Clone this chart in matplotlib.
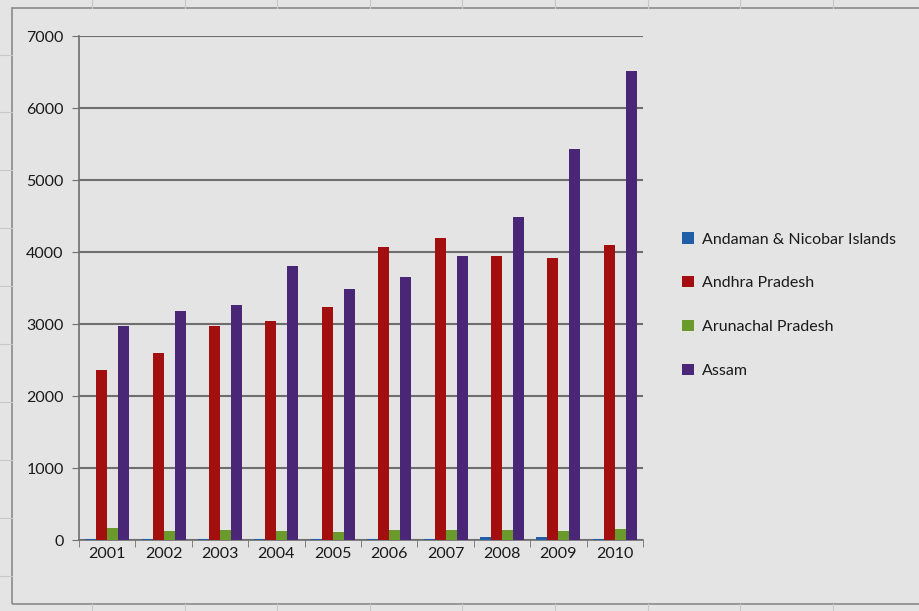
import matplotlib.pyplot as plt
import numpy as np

plt.rcParams['font.family'] = ['Lato', 'DejaVu Sans']

years = ['2001', '2002', '2003', '2004', '2005', '2006', '2007', '2008', '2009', '2010']
andaman = [10, 10, 10, 10, 10, 10, 10, 35, 35, 10]
andhra = [2360, 2600, 2970, 3040, 3230, 4070, 4200, 3940, 3910, 4100]
arunachal = [165, 120, 145, 120, 115, 145, 140, 145, 120, 150]
assam = [2970, 3180, 3260, 3810, 3490, 3650, 3940, 4480, 5430, 6510]

series = [
    ('Andaman & Nicobar Islands', andaman, '#1f5fa8'),
    ('Andhra Pradesh', andhra, '#a30f0f'),
    ('Arunachal Pradesh', arunachal, '#6b9a2c'),
    ('Assam', assam, '#4a2676'),
]

bg = '#e4e4e4'
fig = plt.figure(figsize=(9.19, 6.11), dpi=100, facecolor=bg)

# spreadsheet cell lines around the chart frame
for x in [92, 185, 277, 370, 462, 555, 648, 740, 833]:
    fig.add_artist(plt.Line2D([x / 919, x / 919], [1 - 8 / 611, 1], color='#c8c8c8', lw=0.8))
    fig.add_artist(plt.Line2D([x / 919, x / 919], [0, 1 - 604 / 611], color='#c8c8c8', lw=0.8))
for y in [55, 112, 170, 228, 286, 344, 402, 460, 518, 576]:
    fig.add_artist(plt.Line2D([0, 12 / 919], [1 - y / 611, 1 - y / 611], color='#c8c8c8', lw=0.8))
fig.add_artist(plt.Rectangle((12 / 919, 1 - 604 / 611), 1.0, (604 - 8) / 611,
                             fill=False, ec='#8a8a8a', lw=1.2))

ax = fig.add_axes([79 / 919, 1 - 540 / 611, (643 - 79) / 919, (540 - 36) / 611])
ax.set_facecolor(bg)

x = np.arange(len(years))
w = 0.195
for i, (name, vals, col) in enumerate(series):
    ax.bar(x + (i - 1.5) * w, vals, w, color=col, label=name, zorder=3)

ax.set_xlim(-0.5, len(years) - 0.5)
ax.set_ylim(0, 7000)
ax.set_yticks(range(0, 7001, 1000))
ax.set_xticks(x)
ax.set_xticklabels(years)
ax.set_xticks(np.arange(-0.5, len(years), 1), minor=True)
ax.tick_params(axis='x', which='major', length=0, pad=5, labelsize=11.5, colors='#1a1a1a')
ax.tick_params(axis='x', which='minor', length=5, color='#707070', direction='out')
ax.tick_params(axis='y', length=5, color='#707070', pad=6, labelsize=11.5, labelcolor='#1a1a1a')
ax.grid(axis='y', color='#6e6e6e', lw=1.5, zorder=1)
for s in ['top', 'right']:
    ax.spines[s].set_visible(False)
for s in ['left', 'bottom']:
    ax.spines[s].set_color('#6e6e6e')
    ax.spines[s].set_linewidth(1.2)

fig.legend(loc='upper left', bbox_to_anchor=(668 / 919, 1 - 218 / 611), frameon=False,
           fontsize=11.5, handlelength=0.7, handleheight=0.7, handletextpad=0.5,
           labelspacing=1.85, labelcolor='#1a1a1a')

fig.savefig('out.png', dpi=100, facecolor=bg)
